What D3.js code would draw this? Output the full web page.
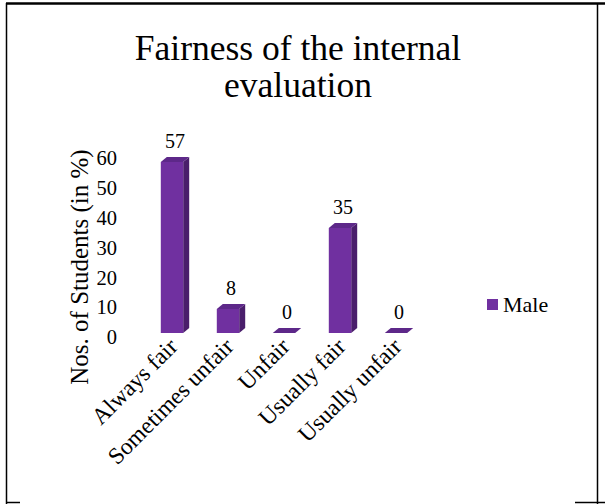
<!DOCTYPE html>
<html><head><meta charset="utf-8">
<script src="https://cdn.jsdelivr.net/npm/d3@7"></script>
<style>body{margin:0;background:#fff}svg{display:block}text{font-family:"Liberation Serif","Times New Roman",serif;fill:#000}</style>
</head><body><svg id="c" width="605" height="504"></svg>
<script>
const categories = ["Always fair","Sometimes unfair","Unfair","Usually fair","Usually unfair"];
const maleValues = [57, 8, 0, 35, 0];
const yTicks = [0,10,20,30,40,50,60];
const titleLines = ["Fairness of the internal","evaluation"];
const seriesName = "Male";
const yTitle = "Nos. of Students (in %)";

const svg = d3.select("#c");
const frontCol = "#7030A0", topCol = "#5d2889", sideCol = "#4a1e6b";
const dx = 6, dy = 5;
const serif = "Liberation Serif";

// border
svg.append("line").attr("x1",6).attr("x2",605).attr("y1",3.5).attr("y2",3.5).attr("stroke","#000").attr("stroke-width",2.5);
svg.append("line").attr("x1",6.5).attr("x2",6.5).attr("y1",3).attr("y2",504).attr("stroke","#000").attr("stroke-width",1.5);
svg.append("line").attr("x1",597.5).attr("x2",597.5).attr("y1",3).attr("y2",504).attr("stroke","#000").attr("stroke-width",1.5);
svg.append("line").attr("x1",6).attr("x2",20).attr("y1",502.5).attr("y2",502.5).attr("stroke","#000").attr("stroke-width",1.5);
svg.append("line").attr("x1",575).attr("x2",605).attr("y1",502.5).attr("y2",502.5).attr("stroke","#000").attr("stroke-width",1.5);

// title
svg.append("text").attr("x",298).attr("y",60).attr("text-anchor","middle").attr("font-family",serif).attr("font-size",35.5).text(titleLines[0]);
svg.append("text").attr("x",298).attr("y",97).attr("text-anchor","middle").attr("font-family",serif).attr("font-size",35.5).text(titleLines[1]);

const x = d3.scaleBand().domain(categories).range([144,424]).paddingInner(0.6).paddingOuter(0.3);
const y = d3.scaleLinear().domain([0,60]).range([333,153]);
const yLab = d3.scaleLinear().domain([0,60]).range([337,158]);

// y tick labels
svg.append("g").selectAll("text").data(yTicks).join("text")
  .attr("x",117).attr("y",d=>yLab(d)).attr("dy","0.35em").attr("text-anchor","end").attr("font-family",serif).attr("font-size",20.5).text(d=>d);

// y title
svg.append("text").attr("transform","translate(79,267) rotate(-90)").attr("text-anchor","middle").attr("dy","0.35em").attr("font-family",serif).attr("font-size",25).text(yTitle);

// bars
const data = categories.map((c,i)=>({c, v: maleValues[i]}));
const g = svg.append("g");
data.forEach(d=>{
  const x0 = x(d.c), w = x.bandwidth(), yt = y(d.v), yb = y(0);
  g.append("path").attr("fill",sideCol).attr("d",`M${x0+w},${yt}L${x0+w+dx},${yt-dy}L${x0+w+dx},${yb-dy}L${x0+w},${yb}Z`);
  g.append("path").attr("fill",topCol).attr("d",`M${x0},${yt}L${x0+dx},${yt-dy}L${x0+w+dx},${yt-dy}L${x0+w},${yt}Z`);
  if (d.v>0) g.append("rect").attr("x",x0).attr("y",yt).attr("width",w).attr("height",yb-yt).attr("fill",frontCol);
  g.append("text").attr("x",x0+w/2+3).attr("y",yt-14).attr("text-anchor","middle").attr("font-family",serif).attr("font-size",20).text(d.v);
});

// category labels
svg.append("g").selectAll("text").data(categories).join("text")
  .attr("transform",d=>`translate(${x(d)+x.bandwidth()/2+7},348) rotate(-45)`)
  .attr("text-anchor","end").attr("font-family",serif).attr("font-size",23.5).text(d=>d);

// legend
svg.append("rect").attr("x",487).attr("y",299).attr("width",11).attr("height",11).attr("fill",frontCol);
svg.append("text").attr("x",503).attr("y",304).attr("dy","0.35em").attr("font-family",serif).attr("font-size",22).text(seriesName);
</script></body></html>
